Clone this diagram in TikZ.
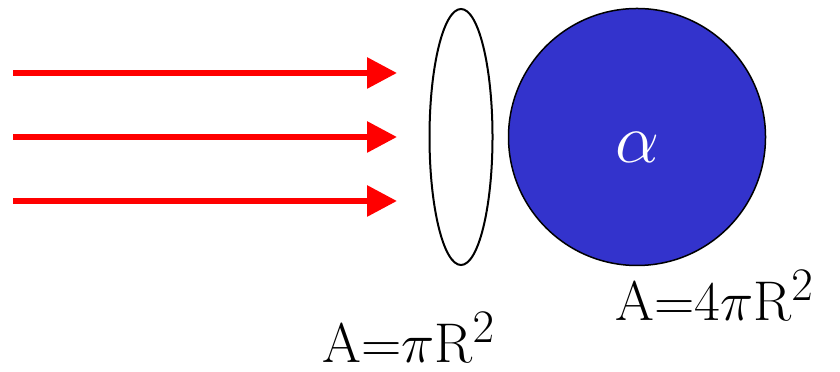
\documentclass[tikz,border=0pt]{standalone}
\usepackage{fontspec}
\usetikzlibrary{arrows.meta,shapes.geometric}
\definecolor{discblue}{HTML}{3333CC}
\definecolor{rayred}{HTML}{FF0000}
\newcommand{\bigtext}[2]{\scalebox{#1}{\Huge #2}}
\tikzset{
  ray/.style={-{Triangle[length=0.6cm,width=0.6cm]},draw=rayred,line width=0.12cm},
  lensshape/.style={ellipse,draw=black,line width=0.04cm,minimum width=1.26cm,
    minimum height=5.12cm,inner sep=0pt},
  discshape/.style={circle,draw=black,line width=0.03cm,fill=discblue,
    minimum size=5.14cm,inner sep=0pt},
  arealabel/.style={inner sep=0pt,anchor=base west}
}
\begin{document}
\begin{tikzpicture}[x=0.2mm,y=0.2mm]
  \useasboundingbox (0,0) rectangle (840,372);
  % lens and absorbing disc
  \node[lensshape] (lens) at (461,235) {};
  \node[discshape] (disc) at (637,235) {};
  \node[text=white,inner sep=0pt] (alpha) at (637,225) {\bigtext{1.6}{$\alpha$}};
  % incoming rays
  \foreach \i/\yy in {1/299,2/235,3/171} {
    \coordinate (src\i) at (13,\yy);
    \coordinate (tip\i) at (397,\yy);
    \draw[ray] (src\i) -- (tip\i);
  }
  % areas
  \node[arealabel] (discarea) at (615,51) {\bigtext{1.28}{A=4$\pi$R$^2$}};
  \node[arealabel] (lensarea) at (322,9) {\bigtext{1.28}{A=$\pi$R$^2$}};
\end{tikzpicture}
\end{document}
